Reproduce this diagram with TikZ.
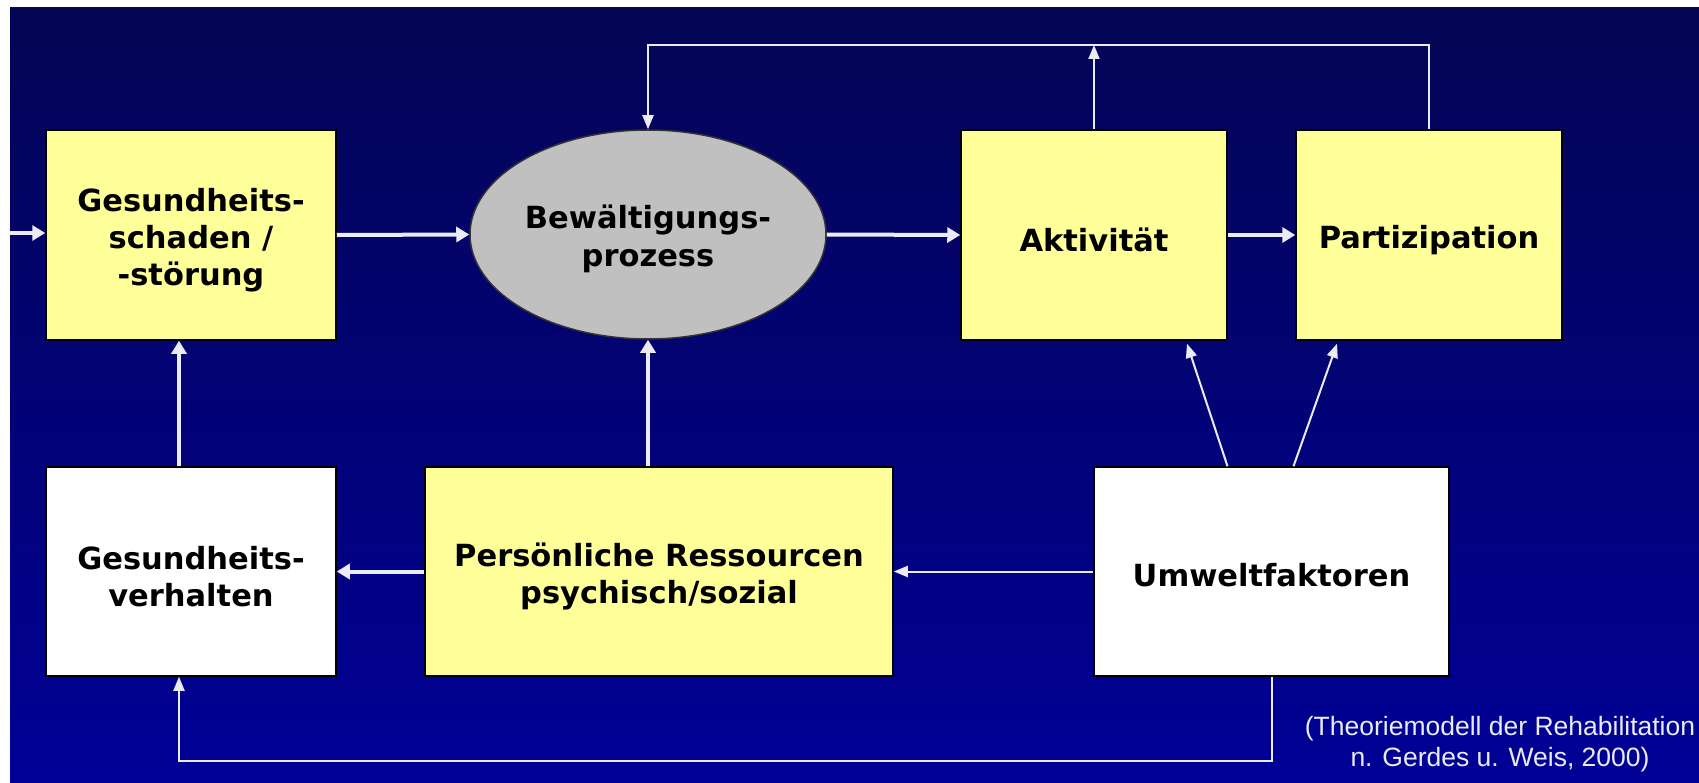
\documentclass[tikz,border=0pt]{standalone}
\usepackage{fontspec}
\setmainfont{DejaVu Sans}
\newfontfamily\capfont{Liberation Sans}
\usetikzlibrary{arrows.meta,calc,shapes.geometric}
\definecolor{bgtop}{RGB}{5,5,85}
\definecolor{bgbot}{RGB}{0,0,150}
\definecolor{boxyellow}{RGB}{255,255,153}
\definecolor{ellgray}{RGB}{192,192,192}
\definecolor{linewhite}{RGB}{235,235,245}
\newcommand{\toppad}{\rule{0pt}{34pt}}
\begin{document}
\begin{tikzpicture}[x=1pt,y=-1pt,
  box/.style={rectangle,draw=black,line width=1.5pt,align=center,inner sep=0pt,
    font=\bfseries\fontsize{30.5}{37}\selectfont,text=black},
  ybox/.style={box,fill=boxyellow},
  wbox/.style={box,fill=white},
  thickarrow/.style={draw=linewhite,line width=4pt,-{Triangle[length=13pt,width=15pt]}},
  thinarrow/.style={draw=linewhite,line width=2pt,-{Triangle[length=14pt,width=11pt]}}]
\useasboundingbox (0,0) rectangle (1699,783);
\fill[white] (0,0) rectangle (1699,783);
\shade[top color=bgtop,bottom color=bgbot] (10,8) rectangle (1699,783);

\node[ybox,minimum width=290pt,minimum height=210pt] (b1) at (191,235)
  {\toppad Gesundheits-\\schaden /\\-störung};
\node[ellipse,draw=black!80,line width=1.5pt,fill=ellgray,minimum width=356pt,
  minimum height=209pt,inner sep=0pt,align=center,
  font=\bfseries\fontsize{30.5}{38}\selectfont] (ell) at (648,234.5)
  {\rule{0pt}{32pt}Bewältigungs-\\prozess};
\node[ybox,minimum width=266pt,minimum height=210pt] (akt) at (1094,235) {\toppad Aktivität};
\node[ybox,minimum width=266pt,minimum height=210pt] (par) at (1429,235) {\toppad Partizipation};
\node[wbox,minimum width=290pt,minimum height=209pt] (gv) at (191,571.5)
  {\toppad Gesundheits-\\verhalten};
\node[ybox,minimum width=468pt,minimum height=209pt] (pr) at (659,571.5)
  {\toppad Persönliche Ressourcen\\psychisch/sozial};
\node[wbox,minimum width=355pt,minimum height=209pt] (um) at (1271.5,571.5)
  {\rule{0pt}{30pt}Umweltfaktoren};

\node[font=\capfont\fontsize{26.5}{31}\selectfont,text=linewhite,align=center,inner sep=0pt]
  (cap) at (1500,744) {(Theoriemodell der Rehabilitation\\n. Gerdes u. Weis, 2000)};

\coordinate (in) at (10,233);
\coordinate (topy) at (0,45);
\coordinate (boty) at (0,761);
\coordinate (axx) at (179,0);

\draw[thickarrow] (in) -- (b1.west |- in);
\draw[thickarrow] (b1.east) -- (ell.west);
\draw[thickarrow] (ell.east) -- (akt.west);
\draw[thickarrow] (akt.east) -- (par.west);
\draw[thickarrow] (pr.west) -- (gv.east);
\draw[thickarrow] (gv.north -| axx) -- (b1.south -| axx);
\draw[thickarrow] (pr.north -| ell.south) -- (ell.south);

\draw[thinarrow] (um.west) -- (pr.east);
\draw[thinarrow] ($(um.north)+(-44,0)$) -- ($(akt.south)+(93,3)$);
\draw[thinarrow] ($(um.north)+(22,0)$) -- ($(par.south)+(-92,3)$);
\draw[thinarrow] (um.south) -- (um.south |- boty) -| (gv.south -| axx);
\draw[thinarrow] (par.north) -- (par.north |- topy) -| (ell.north);
\draw[thinarrow] (akt.north) -- (akt.north |- topy);
\end{tikzpicture}
\end{document}
